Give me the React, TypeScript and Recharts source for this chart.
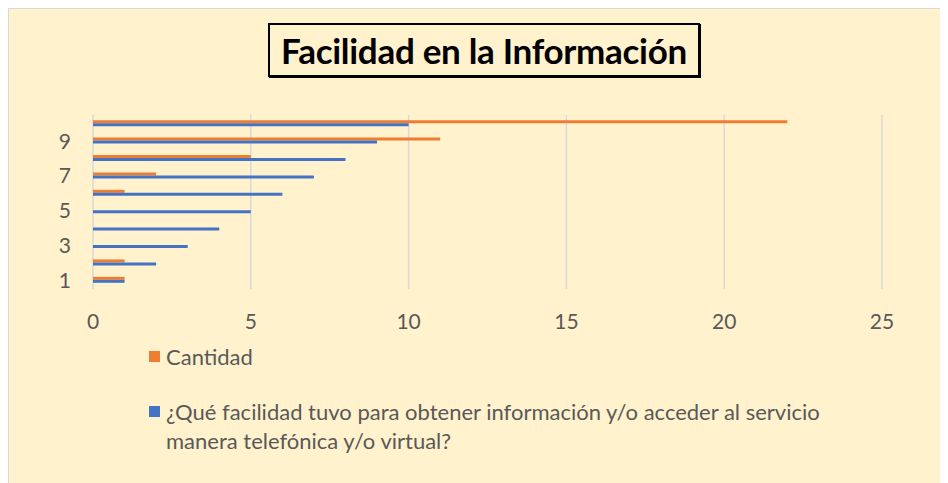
import React from 'react';
import { BarChart, Bar, XAxis, YAxis, CartesianGrid } from 'recharts';

const categories = ['1', '2', '3', '4', '5', '6', '7', '8', '9', '10'];
const cantidad = [1, 1, 0, 0, 0, 1, 2, 5, 11, 22];
const facilidad = [1, 2, 3, 4, 5, 6, 7, 8, 9, 10];
const xTicks = [0, 5, 10, 15, 20, 25];
const shownCategories = ['1', '3', '5', '7', '9'];

const SERIES_NAME = '¿Qué facilidad tuvo para obtener información y/o acceder al servicio manera telefónica y/o virtual?';

// top of the chart is the last category, so build rows from 10 down to 1
const data = categories
  .map((c, i) => ({ name: c, cantidad: cantidad[i], facilidad: facilidad[i] }))
  .reverse();

const FONT = 'Lato, "Open Sans", sans-serif';

const LegendBox = () => (
  <div style={{ position: 'absolute', left: 140, top: 333, width: 700, fontFamily: FONT, fontSize: 22, color: '#595959' }}>
    <div style={{ display: 'flex', alignItems: 'flex-start', lineHeight: '29px' }}>
      <span style={{ width: 11, height: 11, background: '#ED7D31', marginTop: 9, marginRight: 6, flexShrink: 0 }} />
      <span>Cantidad</span>
    </div>
    <div style={{ display: 'flex', alignItems: 'flex-start', marginTop: 26, lineHeight: '29px' }}>
      <span style={{ width: 11, height: 11, background: '#4472C4', marginTop: 9, marginRight: 6, flexShrink: 0 }} />
      <span>{SERIES_NAME}</span>
    </div>
  </div>
);

export default function App() {
  return (
    <div style={{ position: 'relative', width: 940, height: 475, background: '#FFF2CC', borderLeft: '1px solid #d9d9d9', borderTop: '1px solid #d9d9d9', boxSizing: 'border-box' }}>
      <div style={{
        position: 'absolute', left: 259, top: 14, width: 432, height: 54, boxSizing: 'border-box',
        border: '2px solid #000', boxShadow: '1px 1px 0 #000', display: 'flex', alignItems: 'center', justifyContent: 'center',
        fontFamily: FONT, fontWeight: 700, fontSize: 35, color: '#000', letterSpacing: -0.3
      }}>
        Facilidad en la Información
      </div>
      <BarChart
        width={940}
        height={475}
        data={data}
        layout="vertical"
        margin={{ top: 106, right: 67, left: 0, bottom: 155 }}
        barCategoryGap="30%"
        barGap={0}
        style={{ position: 'absolute', left: 0, top: 0 }}
      >
        <CartesianGrid horizontal={false} stroke="#d9d9d9" strokeWidth={1.5} />
        <XAxis
          type="number"
          domain={[0, 25]}
          ticks={xTicks}
          axisLine={false}
          tickLine={false}
          tickMargin={19}
          tick={{ fill: '#595959', fontSize: 21, fontFamily: FONT }}
          height={40}
        />
        <YAxis
          type="category"
          dataKey="name"
          width={84}
          interval={0}
          axisLine={false}
          tickLine={false}
          tickMargin={16}
          tickFormatter={(v: string) => (shownCategories.includes(v) ? v : '')}
          tick={{ fill: '#595959', fontSize: 21, fontFamily: FONT }}
        />
        <Bar dataKey="cantidad" name="Cantidad" fill="#ED7D31" isAnimationActive={false} />
        <Bar dataKey="facilidad" name={SERIES_NAME} fill="#4472C4" isAnimationActive={false} />
      </BarChart>
      <LegendBox />
    </div>
  );
}
